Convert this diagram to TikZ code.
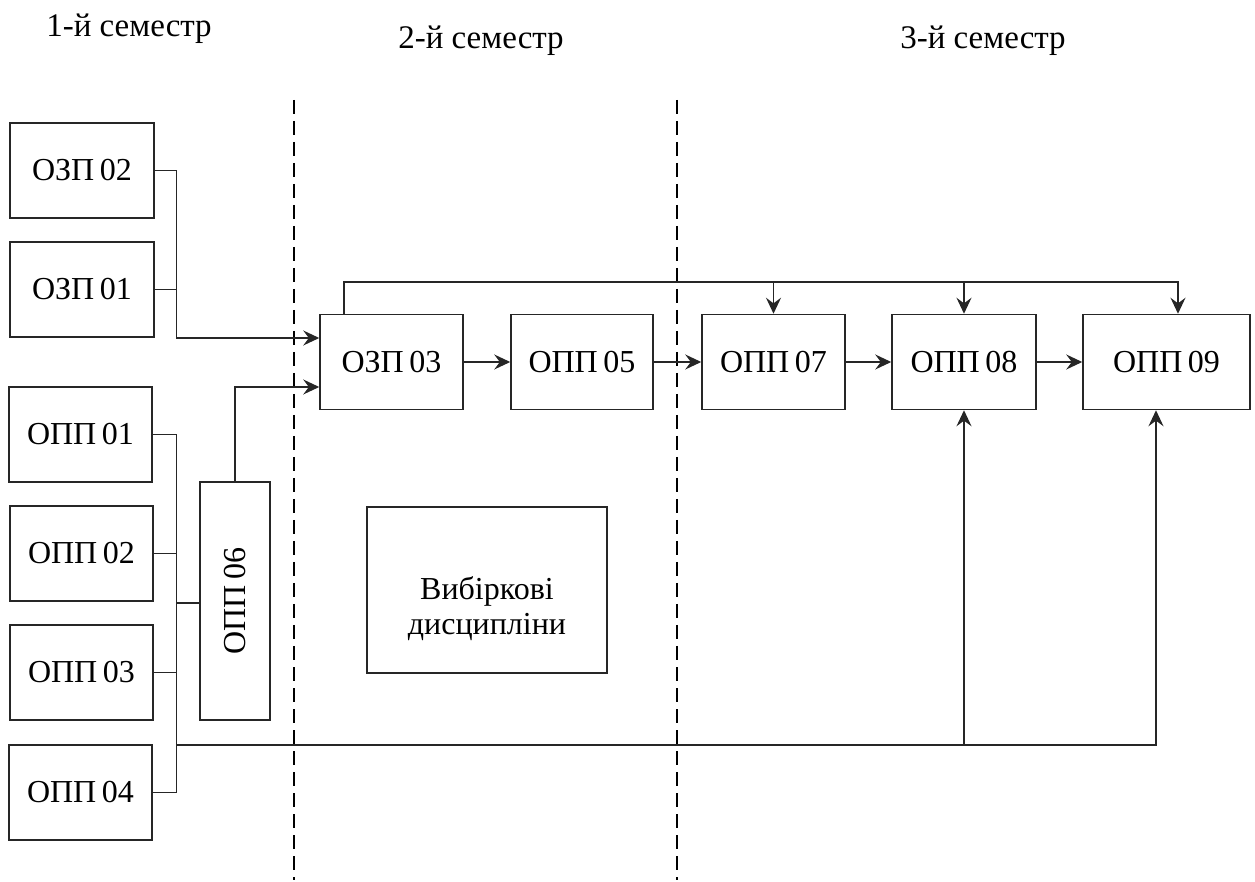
\documentclass[tikz,border=0pt]{standalone}
\usepackage{fontspec}
\setmainfont{Liberation Serif}
\newfontfamily\boxfont{Liberation Serif}[WordSpace=0.7]
\usetikzlibrary{arrows.meta}
\begin{document}
\begin{tikzpicture}[x=0.5pt,y=-0.5pt,
  box/.style={draw=black!85,line width=0.75pt,inner sep=0pt,minimum width=71.5pt,minimum height=47.5pt,font=\boxfont\fontsize{16}{18}\selectfont},
  hdr/.style={font=\fontsize{16.5}{19}\selectfont,inner sep=0pt},
  ln/.style={draw=black!85,line width=0.75pt},
  arr/.style={ln,-{Stealth[length=8pt,width=7.5pt,inset=2.8pt]}},
  sep/.style={draw=black,line width=1.1pt,dash pattern=on 7pt off 3.5pt}]
\useasboundingbox (0,0) rectangle (1255,882);
% headers
\node[hdr] (h1) at (129,29) {1-й семестр};
\node[hdr] (h2) at (481,41) {2-й семестр};
\node[hdr] (h3) at (983,41) {3-й семестр};
% separators
\coordinate (s1t) at (294,100); \coordinate (s1b) at (294,880);
\coordinate (s2t) at (677,100); \coordinate (s2b) at (677,880);
\draw[sep] (s1t) -- (s1b);
\draw[sep] (s2t) -- (s2b);
% boxes
\node[box,minimum width=72pt] (ozp02) at (82,170.5) {ОЗП 02};
\node[box,minimum width=72pt] (ozp01) at (82,289.5) {ОЗП 01};
\node[box] (opp01) at (80.5,434.5) {ОПП 01};
\node[box] (opp02) at (81.5,553.5) {ОПП 02};
\node[box] (opp03) at (81.5,672.5) {ОПП 03};
\node[box] (opp04) at (80.5,792.5) {ОПП 04};
\node[box,minimum width=119pt,minimum height=35pt,rotate=90] (opp06) at (235,601) {ОПП 06};
\node[box] (ozp03) at (391.5,362) {ОЗП 03};
\node[box,minimum width=71pt] (opp05) at (582,362) {ОПП 05};
\node[box] (opp07) at (773.5,362) {ОПП 07};
\node[box,minimum width=72pt] (opp08) at (964,362) {ОПП 08};
\node[box,minimum width=83.5pt] (opp09) at (1166.5,362) {ОПП 09};
\node[box,minimum width=120pt,minimum height=83pt,align=center,text depth=0pt] (vyb) at (487,590) {\raisebox{-6pt}{\begin{tabular}{@{}c@{}}Вибіркові\\[-0.5pt]дисципліни\end{tabular}}};
% left connectors
\draw[arr] (ozp02.east) -| (176.5,338) -- (ozp03.west |- 0,338);
\draw[ln] (ozp01.east) -- (ozp01.east -| 176.5,0);
\draw[arr] (opp06.east) |- (ozp03.west |- 0,387);
\draw[ln] (opp01.east) -| (176.5,620) |- (opp04.east);
\draw[ln] (opp02.east) -- (opp02.east -| 176.5,0);
\draw[ln] (opp03.east) -- (opp03.east -| 176.5,0);
\draw[ln] (176.5,603) -- (opp06.north |- 0,603);
% bottom bus
\coordinate (bb) at (176.5,745);
\draw[arr] (bb) -| (opp09.south -| 1156,0);
\draw[arr] (964,745) -- (opp08.south);
% main chain
\draw[arr] (ozp03) -- (opp05);
\draw[arr] (opp05) -- (opp07);
\draw[arr] (opp07) -- (opp08);
\draw[arr] (opp08) -- (opp09);
% top bus
\draw[arr] (ozp03.north -| 344,0) |- (1178,282) -- (opp09.north -| 1178,0);
\draw[arr] (773.5,282) -- (opp07.north);
\draw[arr] (964,282) -- (opp08.north);
\end{tikzpicture}
\end{document}
